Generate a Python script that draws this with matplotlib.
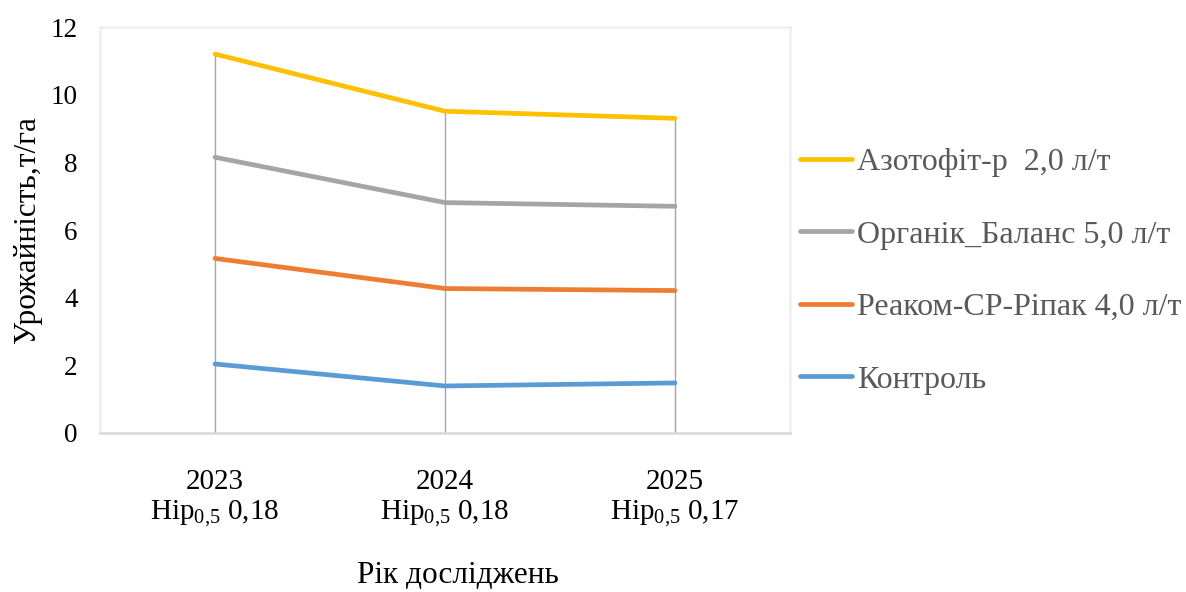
import matplotlib
matplotlib.use("Agg")
import matplotlib.pyplot as plt

plt.rcParams['font.family'] = ['Liberation Serif', 'DejaVu Serif']
plt.rcParams['mathtext.fontset'] = 'custom'
plt.rcParams['mathtext.rm'] = 'Liberation Serif'
plt.rcParams['mathtext.it'] = 'Liberation Serif:italic'

years = ['2023', '2024', '2025']
hir = ['0,18', '0,18', '0,17']
series_names = ['Азотофіт-р  2,0 л/т', 'Органік_Баланс 5,0 л/т',
                'Реаком-СР-Ріпак 4,0 л/т', 'Контроль']
azotofit = [11.2, 9.51, 9.30]
organik = [8.15, 6.81, 6.70]
reakom = [5.16, 4.27, 4.21]
kontrol = [2.04, 1.39, 1.48]
colors = ['#FFC000', '#A5A5A5', '#ED7D31', '#5B9BD5']

fig = plt.figure(figsize=(11.86, 5.92), dpi=100)
ax = fig.add_axes([100/1186, 1-433/592, 690/1186, 406/592])

x = list(range(len(years)))
# drop lines
for xi, top in zip(x, azotofit):
    ax.plot([xi, xi], [0, top], color='#A5A5A5', lw=1.0, zorder=1)

handles = []
for vals, name, c in zip([azotofit, organik, reakom, kontrol], series_names, colors):
    h, = ax.plot(x, vals, color=c, lw=3.4, solid_capstyle='round', label=name, zorder=3)
    handles.append(h)

ax.set_xlim(-0.5, 2.5)
ax.set_ylim(0, 12)
ax.set_yticks(range(0, 13, 2))
ax.set_yticklabels([str(v) for v in range(0, 13, 2)], fontsize=19.5)
ax.set_xticks(x)
ax.set_xticklabels([f"{y}\nHip$_{{\\mathrm{{0{{,}}5}}}}$ {h}" for y, h in zip(years, hir)],
                   fontsize=21, linespacing=1.18)
ax.tick_params(axis='both', length=0)
ax.tick_params(axis='x', pad=26)
ax.tick_params(axis='y', pad=16)

for side in ['top', 'right', 'left']:
    ax.spines[side].set_color('#EFEFEF')
    ax.spines[side].set_linewidth(1.8)
ax.spines['bottom'].set_color('#D9D9D9')
ax.spines['bottom'].set_linewidth(1.8)

ax.set_ylabel('Урожайність,т/га', fontsize=22.5, labelpad=6)
ax.set_xlabel('Рік досліджень', fontsize=22.5)
ax.xaxis.set_label_coords((458 - 100) / 690, -(561 - 433) / 406)

leg = fig.legend(handles=handles, loc='upper left', bbox_to_anchor=(787/1186, 1-135/592),
                 frameon=False, fontsize=23, handlelength=1.65, handletextpad=0.15,
                 labelspacing=1.35, borderaxespad=0)
for t in leg.get_texts():
    t.set_color('#595959')

fig.savefig('out.png', dpi=100)
